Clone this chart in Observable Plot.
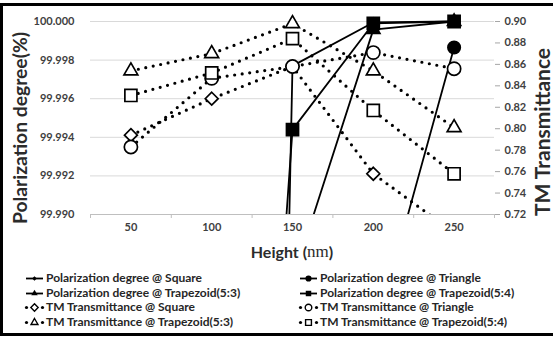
<!DOCTYPE html>
<html><head><meta charset="utf-8">
<script src="https://cdn.jsdelivr.net/npm/d3@7"></script>
<script src="https://cdn.jsdelivr.net/npm/@observablehq/plot@0.6"></script>
<style>
body{margin:0;background:#fff;}
#wrap{position:relative;width:553px;height:337px;overflow:hidden;background:#fff;font-family:Lato,sans-serif;}
#chart{position:absolute;left:0;top:0;}
#frame{position:absolute;left:0;top:3px;width:600px;height:333px;box-sizing:border-box;border:3px solid #000;pointer-events:none;}
.lg{position:absolute;font:bold 12px Lato,sans-serif;color:#262626;white-space:nowrap;line-height:14px;height:14px;}
.lg svg{position:absolute;left:0;top:0;overflow:visible;}
.lg span{position:absolute;top:0;}
</style></head><body>
<div id="wrap"><div id="chart"></div><div id="legend"></div><div id="frame"></div></div>
<script>
const heights = [50, 100, 150, 200, 250];
const polSquare   = [99.60, 99.80, 99.9977, 99.99995, 100.000];
const polTriangle = [99.80, 99.90, 99.96, 99.9835, 99.99865];
const polTrap53   = [99.90, 99.96, 99.9866, 99.99958, 100.000];
const polTrap54   = [99.85, 99.935, 99.9944, 99.9999, 100.000];
const tmSquare    = [0.794, 0.828, 0.858, 0.758, 0.703];
const tmTriangle  = [0.783, 0.847, 0.858, 0.871, 0.856];
const tmTrap53    = [0.854, 0.870, 0.898, 0.854, 0.801];
const tmTrap54    = [0.831, 0.852, 0.884, 0.817, 0.758];
const leftTicks   = [99.990, 99.992, 99.994, 99.996, 99.998, 100.000];
const rightTicks  = [0.72, 0.74, 0.76, 0.78, 0.80, 0.82, 0.84, 0.86, 0.88, 0.90];
const categoryEdges = [25, 75, 125, 175, 225, 275];
const seriesNames = [
  "Polarization degree @ Square", "Polarization degree @ Triangle",
  "Polarization degree @ Trapezoid(5:3)", "Polarization degree @ Trapezoid(5:4)",
  "TM Transmittance @ Square", "TM Transmittance @ Triangle",
  "TM Transmittance @ Trapezoid(5:3)", "TM Transmittance @ Trapezoid(5:4)"
];
const yTitle = "Polarization degree(%)";
const y2Title = "TM Transmittance";

const L0 = 99.990, L1 = 100.000, R0 = 0.72, R1 = 0.90;
const toL = v => L0 + (v - R0) / (R1 - R0) * (L1 - L0);
const fromL = d => R0 + (d - L0) / (L1 - L0) * (R1 - R0);
const mk = arr => heights.map((h, i) => ({x: h, y: arr[i]}));

const series = [
  {vals: polSquare,   solid: true,  symbol: "diamond2",  r: 4,   fill: "#000"},
  {vals: polTriangle, solid: true,  symbol: "circle",    r: 6.2, fill: "#000"},
  {vals: polTrap53,   solid: true,  symbol: "triangle2", r: 6.3, fill: "#000"},
  {vals: polTrap54,   solid: true,  symbol: "square",    r: 6.8, fill: "#000"},
  {vals: tmSquare.map(toL),   solid: false, symbol: "diamond2",  r: 5.8, fill: "#fff"},
  {vals: tmTriangle.map(toL), solid: false, symbol: "circle",    r: 6.6, fill: "#fff"},
  {vals: tmTrap53.map(toL),   solid: false, symbol: "triangle2", r: 6.6, fill: "#fff"},
  {vals: tmTrap54.map(toL),   solid: false, symbol: "square",    r: 6.8, fill: "#fff"}
];

const inR = d => d.y >= L0 - 1e-9 && d.y <= L1 + 1e-9;
const marks = [
  Plot.gridY(leftTicks, {stroke: "#d9d9d9", strokeOpacity: 1, strokeWidth: 1}),
  Plot.ruleY([L0], {stroke: "#bfbfbf", strokeWidth: 1}),
  Plot.axisY({ticks: leftTicks, tickSize: 0, tickPadding: 16, tickFormat: d => d.toFixed(3), label: null, fill: "#404040", fontSize: 11, fontWeight: "bold"}),
  Plot.axisY({anchor: "right", ticks: rightTicks.map(toL), tickFormat: d => fromL(d).toFixed(2), tickSize: 5, tickPadding: 5, stroke: "#a6a6a6", fill: "#404040", label: null, fontSize: 11, fontWeight: "bold"}),
  Plot.axisX({ticks: categoryEdges, tickSize: 4, tickFormat: () => "", stroke: "#bfbfbf", label: null}),
  Plot.axisX({ticks: heights, tickSize: 0, tickPadding: 9, label: null, fill: "#404040", fontSize: 11, fontWeight: "bold"})
];
for (const s of series) {
  const data = mk(s.vals);
  marks.push(Plot.line(data, s.solid
    ? {x: "x", y: "y", stroke: "#000", strokeWidth: 1.8, clip: true}
    : {x: "x", y: "y", stroke: "#000", strokeWidth: 3.2, strokeDasharray: "0 7.6", strokeLinecap: "round", clip: true}));
  marks.push(Plot.dot(data.filter(inR), {x: "x", y: "y", symbol: s.symbol, r: s.r, fill: s.fill, stroke: "#000", strokeWidth: 1.7}));
}

const chart = Plot.plot({
  width: 553, height: 262,
  marginLeft: 90, marginRight: 59, marginTop: 21, marginBottom: 48,
  x: {domain: [25, 275]},
  y: {domain: [L0, L1]},
  style: {fontFamily: "Lato, sans-serif", fontWeight: "bold", fontSize: "11px", background: "transparent", overflow: "visible"},
  marks
});
document.getElementById("chart").appendChild(chart);

const svg = d3.select(chart);
// let clipped lines show their full stroke at the top edge
svg.selectAll("clipPath rect").each(function() {
  const r = d3.select(this);
  const y = +r.attr("y"), h = +r.attr("height");
  r.attr("y", y - 6).attr("height", h + 6);
});
// axis titles
svg.append("text").attr("transform", "translate(19,128) rotate(-90)")
  .attr("text-anchor", "middle").attr("dominant-baseline", "central")
  .attr("font-size", 19.3).attr("font-weight", "bold").attr("fill", "#2b2b2b").text(yTitle);
svg.append("text").attr("transform", "translate(541,132) rotate(-90)")
  .attr("text-anchor", "middle").attr("dominant-baseline", "central")
  .attr("font-size", 21).attr("font-weight", "bold").attr("fill", "#2b2b2b").text(y2Title);
const xl = svg.append("text").attr("x", 292).attr("y", 251)
  .attr("text-anchor", "middle").attr("dominant-baseline", "central")
  .attr("font-size", 16).attr("font-weight", "bold").attr("fill", "#2b2b2b");
xl.append("tspan").text("Height (");
xl.append("tspan").attr("font-family", "Liberation Serif, serif").attr("font-weight", "normal").attr("font-size", 17).text("nm");
xl.append("tspan").text(")");

// legend
const symMap = {diamond2: d3.symbolDiamond2, circle: d3.symbolCircle, triangle2: d3.symbolTriangle2, square: d3.symbolSquare};
const legend = d3.select("#legend");
const rowY = [271, 285.5, 300, 314.5];
series.forEach((s, i) => {
  const row = Math.floor(i / 2), col = i % 2;
  const left = col === 0 ? 25 : 299;
  const item = legend.append("div").attr("class", "lg").style("left", left + "px").style("top", rowY[row] + "px");
  const g = item.append("svg").attr("width", 20).attr("height", 14);
  const cy = 7.5;
  if (s.solid) {
    g.append("line").attr("x1", 1).attr("x2", 18).attr("y1", cy).attr("y2", cy).attr("stroke", "#000").attr("stroke-width", 1.8);
    const sz = s.symbol === "diamond2" ? 14 : 30;
    g.append("path").attr("d", d3.symbol(symMap[s.symbol], sz)()).attr("transform", `translate(9.5,${cy})`).attr("fill", "#000");
  } else {
    g.append("circle").attr("cx", 1.5).attr("cy", cy).attr("r", 1.6).attr("fill", "#000");
    g.append("circle").attr("cx", 17.5).attr("cy", cy).attr("r", 1.6).attr("fill", "#000");
    g.append("path").attr("d", d3.symbol(symMap[s.symbol], 34)()).attr("transform", `translate(9.5,${cy})`).attr("fill", "#fff").attr("stroke", "#000").attr("stroke-width", 1.4);
  }
  item.append("span").style("left", "21px").text(seriesNames[i]);
});
</script>
</body></html>
